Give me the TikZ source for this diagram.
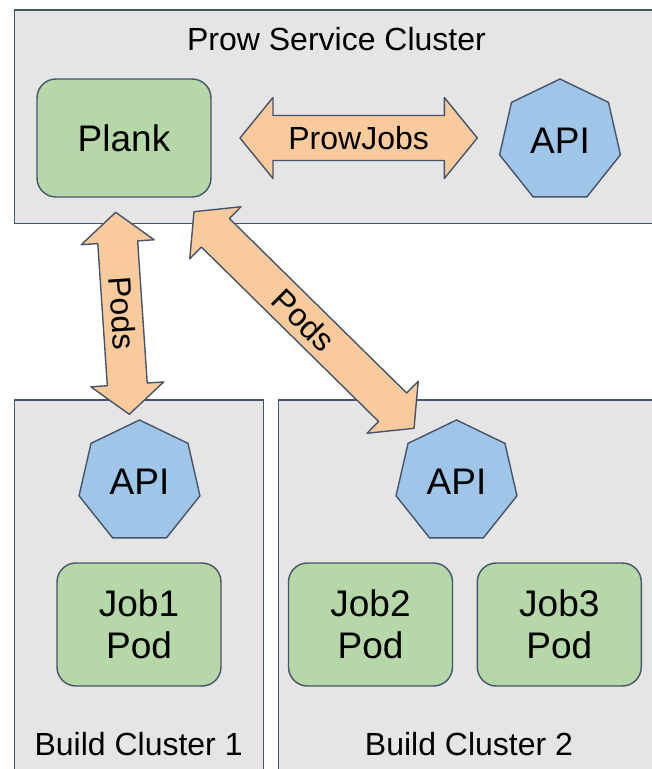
\documentclass[tikz,border=0pt]{standalone}
\usepackage{fontspec}
\setmainfont{Liberation Sans}
\usetikzlibrary{calc,shapes.geometric}
\definecolor{edge}{HTML}{45546A}
\definecolor{clusterfill}{HTML}{E5E5E5}
\definecolor{greenfill}{HTML}{B6D7A8}
\definecolor{bluefill}{HTML}{9FC5E8}
\definecolor{orangefill}{HTML}{F9CB9C}
\tikzset{
  cluster/.style={draw=edge, fill=clusterfill, line width=1.3pt},
  podbox/.style={draw=edge, fill=greenfill, line width=1.4pt, rounded corners=19pt,
    inner sep=0pt, align=center, font=\fontsize{37}{42.5}\selectfont},
  apinode/.style={draw=edge, fill=bluefill, line width=1.4pt, regular polygon,
    regular polygon sides=7, minimum size=124pt, inner sep=0pt,
    font=\fontsize{37}{42.5}\selectfont},
  blockarrow/.style={draw=edge, fill=orangefill, line width=1.4pt, line join=round},
  title/.style={anchor=base, inner sep=0pt, font=\fontsize{32}{36.8}\selectfont},
  arrowlabel/.style={inner sep=0pt, font=\fontsize{32}{36.8}\selectfont}
}
% #1 tip A, #2 tip B, #3 head length, #4 head half width, #5 shaft half width
\newcommand{\blockarrow}[5]{%
  \draw[blockarrow] (#1)
    -- ($(#1)!#3!(#2)!#4!90:(#2)$)
    -- ($(#1)!#3!(#2)!#5!90:(#2)$)
    -- ($(#2)!#3!(#1)!#5!-90:(#1)$)
    -- ($(#2)!#3!(#1)!#4!-90:(#1)$)
    -- (#2)
    -- ($(#2)!#3!(#1)!#4!90:(#1)$)
    -- ($(#2)!#3!(#1)!#5!90:(#1)$)
    -- ($(#1)!#3!(#2)!#5!-90:(#2)$)
    -- ($(#1)!#3!(#2)!#4!-90:(#2)$)
    -- cycle;}
\begin{document}
\begin{tikzpicture}[x=1pt, y=-1pt]
  \useasboundingbox (0,0) rectangle (652,769);
  \clip (0,0) rectangle (652,769);
  % clusters
  \draw[cluster] (14.6,10) rectangle (670,223.3);
  \draw[cluster] (14.6,400) rectangle (263.8,790);
  \draw[cluster] (278.5,400) rectangle (670,790);
  \node[title] (prowtitle) at (336.5,50) {Prow Service Cluster};
  \node[title] (bc1title) at (138.6,755) {Build Cluster 1};
  \node[title] (bc2title) at (469,755) {Build Cluster 2};
  % service cluster contents
  \node[podbox, minimum width=174pt, minimum height=118pt] (plank) at (124,138) {Plank};
  \node[apinode] (api0) at (560,141) {API};
  % build cluster contents
  \node[apinode] (api1) at (139.5,482) {API};
  \node[apinode] (api2) at (456.5,482) {API};
  \node[podbox, minimum width=164pt, minimum height=123pt] (job1) at (139,624.5) {Job1\\Pod};
  \node[podbox, minimum width=164pt, minimum height=123pt] (job2) at (370.5,624.5) {Job2\\Pod};
  \node[podbox, minimum width=164pt, minimum height=123pt] (job3) at (559.3,624.5) {Job3\\Pod};
  % block arrows
  \coordinate (pjA) at (240,138);
  \coordinate (pjB) at (477.3,138);
  \coordinate (podA) at (115.7,212.3);
  \coordinate (podB) at (129.3,414.3);
  \coordinate (diagA) at (194,211.7);
  \coordinate (diagB) at (414,428.3);
  \blockarrow{pjA}{pjB}{33pt}{40.5pt}{22.5pt}
  \blockarrow{podA}{podB}{30pt}{36.5pt}{20pt}
  \blockarrow{diagA}{diagB}{30pt}{36.5pt}{20pt}
  \path (pjA) -- node[arrowlabel] (pjlabel) {ProwJobs} (pjB);
  \path (podA) -- node[arrowlabel, sloped] (podlabel) {Pods} (podB);
  \path (diagA) -- node[arrowlabel, sloped] (diaglabel) {Pods} (diagB);
\end{tikzpicture}
\end{document}
